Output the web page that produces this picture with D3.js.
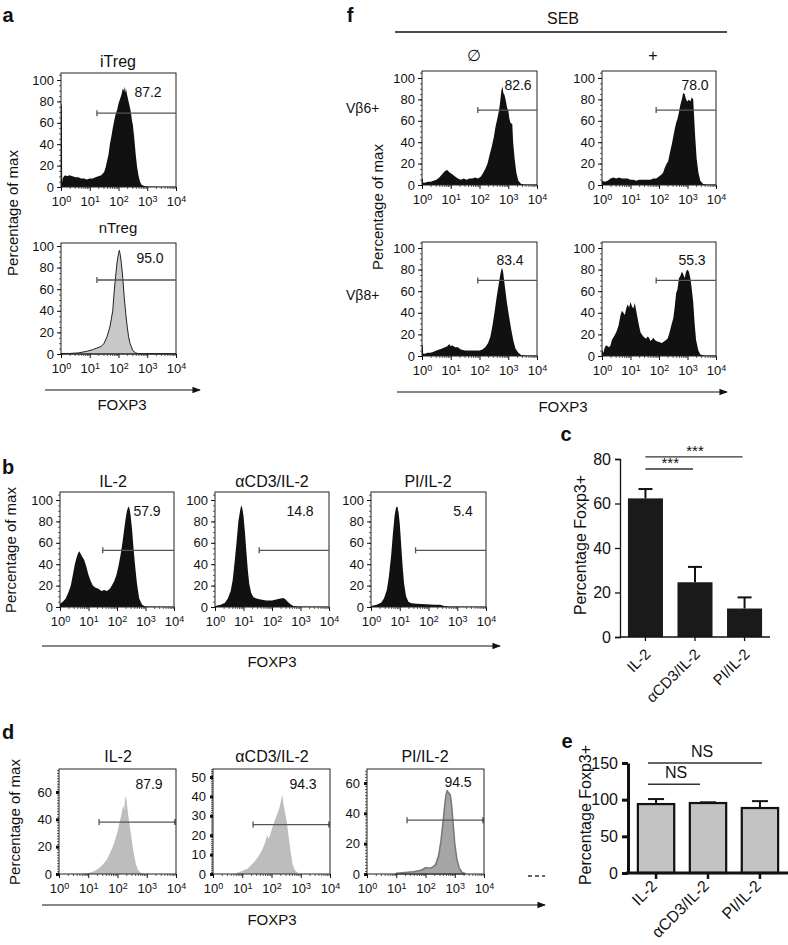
<!DOCTYPE html>
<html><head><meta charset="utf-8">
<script src="https://cdn.jsdelivr.net/npm/d3@7"></script>
<style>body{margin:0;background:#fff}svg{display:block}text{font-family:"Liberation Sans",Arial,sans-serif;fill:#111}</style>
</head><body>
<script>
// ---------------- DATA (x = log10 FOXP3 decade, y = % of max) ----------------
const iTregHist=[[0,77],[0.03,77],[0.04,4],[0.06,8],[0.1,10],[0.15,11],[0.2,10],[0.3,11],[0.4,10],[0.5,9],[0.6,9],[0.7,8],[0.8,8],[0.9,7],[1.0,8],[1.1,8],[1.2,9],[1.3,10],[1.4,11],[1.5,14],[1.55,18],[1.6,24],[1.65,30],[1.7,40],[1.75,47],[1.8,55],[1.85,62],[1.9,68],[1.95,72],[2.0,78],[2.05,82],[2.1,86],[2.15,92],[2.18,90],[2.2,94],[2.23,88],[2.26,92],[2.3,86],[2.35,80],[2.4,74],[2.43,70],[2.47,62],[2.5,58],[2.55,45],[2.6,30],[2.65,18],[2.7,10],[2.75,5],[2.8,2],[2.9,1],[3.0,0.5],[3.5,0.3],[4,0.3]];
const nTregHist=[[0,0.5],[0.3,0.5],[0.6,1],[0.9,2.5],[1.1,4],[1.25,5.5],[1.4,7],[1.5,10],[1.6,16],[1.7,25],[1.8,40],[1.85,58],[1.9,72],[1.95,85],[2.0,93],[2.03,96],[2.06,92],[2.1,84],[2.15,70],[2.2,52],[2.25,38],[2.3,26],[2.35,16],[2.4,10],[2.5,3],[2.6,1],[2.7,0.3],[4,0.3]];
const seb6None=[[0,6],[0.03,6],[0.04,2],[0.1,2],[0.2,3],[0.3,3],[0.4,4],[0.5,5],[0.6,7],[0.7,10],[0.8,13],[0.88,14],[0.95,12],[1.05,10],[1.15,8],[1.25,6],[1.35,5],[1.45,6],[1.55,5],[1.65,6],[1.75,6],[1.85,7],[1.95,6],[2.05,8],[2.12,11],[2.2,15],[2.28,20],[2.35,28],[2.42,35],[2.5,45],[2.56,55],[2.62,62],[2.68,70],[2.72,78],[2.76,88],[2.8,92],[2.83,86],[2.87,84],[2.92,78],[2.96,72],[3.0,70],[3.04,62],[3.08,58],[3.14,57],[3.17,40],[3.22,25],[3.28,12],[3.35,4],[3.45,1],[3.6,0.5],[4,0.5]];
const seb6Plus=[[0,4],[0.1,3],[0.2,4],[0.3,6],[0.4,7],[0.5,6],[0.6,7],[0.7,6],[0.8,6],[0.9,6],[1.0,5],[1.1,5],[1.2,4],[1.3,5],[1.4,5],[1.5,5],[1.6,5],[1.7,5],[1.8,6],[1.9,6],[2.0,8],[2.1,10],[2.15,12],[2.2,16],[2.27,20],[2.32,22],[2.38,30],[2.45,38],[2.5,45],[2.55,52],[2.6,58],[2.65,62],[2.7,68],[2.75,75],[2.8,80],[2.85,86],[2.9,85],[2.95,80],[3.0,78],[3.05,80],[3.1,78],[3.15,82],[3.2,80],[3.23,65],[3.27,45],[3.32,25],[3.38,12],[3.45,4],[3.55,1],[3.7,0.5],[4,0.5]];
const seb8None=[[0,10],[0.03,10],[0.04,2],[0.1,2],[0.2,3],[0.3,3],[0.4,4],[0.5,5],[0.6,6],[0.7,7],[0.8,8],[0.88,9],[0.95,11],[1.0,9],[1.05,10],[1.15,8],[1.25,8],[1.35,6],[1.5,5],[1.7,5],[1.9,5],[2.0,5],[2.1,6],[2.2,8],[2.3,12],[2.38,18],[2.45,28],[2.52,40],[2.6,55],[2.66,65],[2.72,75],[2.78,82],[2.82,78],[2.88,65],[2.95,50],[3.02,38],[3.1,25],[3.18,14],[3.25,7],[3.35,3],[3.45,1],[3.6,0.5],[4,0.5]];
const seb8Plus=[[0,6],[0.05,3],[0.1,8],[0.15,10],[0.2,9],[0.25,8],[0.3,10],[0.35,15],[0.42,18],[0.5,22],[0.58,28],[0.65,38],[0.7,42],[0.75,40],[0.8,38],[0.85,44],[0.9,48],[0.95,45],[1.0,50],[1.05,46],[1.1,44],[1.15,49],[1.2,42],[1.25,35],[1.3,28],[1.35,22],[1.4,20],[1.45,18],[1.5,17],[1.55,16],[1.6,18],[1.65,17],[1.7,14],[1.75,15],[1.8,17],[1.85,15],[1.9,14],[2.0,13],[2.1,12],[2.2,14],[2.3,16],[2.35,20],[2.4,25],[2.45,30],[2.5,35],[2.55,45],[2.6,58],[2.65,62],[2.7,72],[2.75,74],[2.8,78],[2.85,76],[2.9,72],[2.95,78],[3.0,80],[3.05,78],[3.1,72],[3.15,62],[3.2,50],[3.25,30],[3.3,15],[3.38,5],[3.45,1.5],[3.6,0.5],[4,0.5]];
const bIL2=[[0,3],[0.1,5],[0.2,8],[0.3,14],[0.38,20],[0.45,30],[0.52,40],[0.58,46],[0.63,50],[0.68,52],[0.72,50],[0.78,47],[0.85,44],[0.92,38],[1.0,30],[1.08,24],[1.15,20],[1.25,18],[1.35,17],[1.45,15],[1.55,16],[1.65,15],[1.75,17],[1.82,20],[1.9,24],[1.98,30],[2.05,38],[2.12,48],[2.18,58],[2.24,70],[2.3,82],[2.35,90],[2.4,94],[2.44,92],[2.48,85],[2.53,72],[2.58,55],[2.63,40],[2.7,22],[2.78,8],[2.88,2],[3.0,0.5],[4,0.3]];
const bCD3=[[0,1],[0.2,2],[0.35,4],[0.45,8],[0.55,15],[0.62,25],[0.7,45],[0.76,62],[0.82,80],[0.88,90],[0.92,95],[0.96,92],[1.0,85],[1.05,70],[1.1,52],[1.15,35],[1.2,22],[1.27,13],[1.35,9],[1.45,8],[1.6,7],[1.8,6],[2.0,6],[2.15,7],[2.3,8],[2.4,8.5],[2.48,7],[2.55,5],[2.65,2.5],[2.75,1],[2.9,0.5],[4,0.3]];
const bPI=[[0,1],[0.2,2],[0.35,4],[0.45,8],[0.55,16],[0.62,28],[0.7,48],[0.76,68],[0.82,85],[0.87,93],[0.92,94],[0.96,88],[1.0,78],[1.05,58],[1.1,38],[1.15,22],[1.22,10],[1.3,5],[1.4,3.5],[1.6,3],[1.9,2.5],[2.2,2],[2.4,2],[2.55,1],[2.7,0.4],[4,0.3]];
const dIL2=[[0.8,0.3],[1.0,0.8],[1.2,2],[1.35,4],[1.5,7],[1.62,10],[1.72,14],[1.82,19],[1.92,25],[2.0,31],[2.06,37],[2.12,42],[2.17,48],[2.2,50],[2.23,47],[2.26,55],[2.29,57],[2.32,52],[2.36,44],[2.42,35],[2.48,26],[2.55,16],[2.62,8],[2.7,3],[2.8,1],[2.9,0.3]];
const dCD3=[[0.8,0.5],[1.0,1.5],[1.2,3],[1.4,6],[1.55,9],[1.7,13],[1.8,17],[1.85,20],[1.9,18],[1.97,21],[2.05,25],[2.12,28],[2.2,31],[2.27,34],[2.33,38],[2.37,41],[2.41,36],[2.46,32],[2.52,27],[2.58,20],[2.65,12],[2.72,5],[2.8,2],[2.9,0.5]];
const dPI=[[1.0,0.5],[1.3,1],[1.6,2],[1.85,3],[2.0,5],[2.1,4],[2.25,5],[2.35,8],[2.45,14],[2.52,22],[2.58,32],[2.63,42],[2.68,50],[2.72,54],[2.78,53],[2.83,54],[2.87,48],[2.92,38],[2.97,26],[3.03,14],[3.1,6],[3.2,2],[3.3,0.5]];
const dPI2=[[1.0,0.5],[1.3,1],[1.6,1.5],[1.85,2.5],[2.0,4],[2.2,4],[2.35,6],[2.45,12],[2.53,22],[2.6,34],[2.65,44],[2.7,52],[2.74,55],[2.8,53],[2.85,52],[2.9,44],[2.95,32],[3.0,20],[3.07,10],[3.15,4],[3.25,1],[3.35,0.3]];

const decadeTicks=[0,1,2,3,4];
const pctTicks=[0,20,40,60,80,100];
const gateStartsA=[1.25,1.25], gateLevelsA=[69,68.5], gateLabelsA=['87.2','95.0'];
const gateStartsF=[1.94,1.9,1.94,1.9], gateLevelsF=[70,70,70,70], gateLabelsF=['82.6','78.0','83.4','55.3'];
const gateStartsB=[1.5,1.55,1.55], gateLevelsB=[53,53,53], gateLabelsB=['57.9','14.8','5.4'];
const gateStartsD=[1.37,1.37,1.37], gateLevelsD=[38,25.5,35.5], gateLabelsD=['87.9','94.3','94.5'];
const dTicks=[[0,20,40,60],[0,10,20,30,40,50],[0,20,40,60]];

const categories=['IL-2','\u03b1CD3/IL-2','PI/IL-2'];
const cMeans=[62.3,24.6,12.8], cErr=[4.2,6.9,5.0];
const cTicks=[0,20,40,60,80];
const eMeans=[94,95.4,88.6], eErr=[6.8,1.0,9.4];
const eTicks=[0,50,100,150];

// ---------------- RENDER ----------------
const FONT='"Liberation Sans", Arial, sans-serif';
const svg=d3.select('body').append('svg').attr('width',788).attr('height',945);
const defs=svg.append('defs');
defs.append('marker').attr('id','arr').attr('viewBox','0 0 10 10').attr('refX',9).attr('refY',5)
  .attr('markerWidth',8).attr('markerHeight',7).attr('orient','auto')
  .append('path').attr('d','M0,1L10,5L0,9z').attr('fill','#111');

const minorDec=[]; for(let d=0;d<4;d++) for(let k=2;k<10;k++) minorDec.push(d+Math.log10(k));

function txt(s,x,y,size,opts={}){
  return svg.append('text').attr('x',x).attr('y',y).attr('font-size',size)
   .attr('text-anchor',opts.anchor||'middle').attr('font-weight',opts.bold?'bold':null).text(s);
}
function vlabel(s,cx,cy,size){
  svg.append('text').attr('transform',`translate(${cx},${cy}) rotate(-90)`).attr('text-anchor','middle')
   .attr('dominant-baseline','central').attr('font-size',size).text(s);
}
function arrow(x1,x2,y){
  svg.append('line').attr('x1',x1).attr('x2',x2).attr('y1',y).attr('y2',y).attr('stroke','#111')
   .attr('stroke-width',1.2).attr('marker-end','url(#arr)');
}

function hist(p){
  const g=svg.append('g');
  const x=d3.scaleLinear().domain([0,4]).range([p.x0,p.x1]);
  const y=d3.scaleLinear().domain([0,p.refVal]).range([p.y0,p.yRef]);
  const area=d3.area().x(d=>x(d[0])).y0(y(0)).y1(d=>y(d[1]));
  p.series.forEach(s=>{
    g.append('path').datum(s.data).attr('d',area).attr('fill',s.fill).attr('fill-opacity',s.op||1)
     .attr('stroke',s.stroke||'none').attr('stroke-width',s.sw||1).attr('stroke-linejoin','round');
  });
  g.append('rect').attr('x',p.x0).attr('y',p.top).attr('width',p.x1-p.x0).attr('height',p.y0-p.top)
   .attr('fill','none').attr('stroke','#222').attr('stroke-width',1);
  const yMaxVal=y.invert(p.top);
  const ym=g.append('g').attr('transform',`translate(${p.x0},0)`)
   .call(d3.axisLeft(y).tickValues(d3.range(0,yMaxVal,p.minorStep)).tickSize(2).tickFormat(''));
  ym.select('.domain').remove(); ym.selectAll('line').attr('stroke','#333').attr('stroke-width',0.8);
  const ya=g.append('g').attr('transform',`translate(${p.x0},0)`)
   .call(d3.axisLeft(y).tickValues(p.ticks).tickSize(p.dStyle?3:4).tickPadding(p.dStyle?4:3));
  ya.select('.domain').remove();
  ya.attr('font-size',13).attr('font-family',FONT);
  ya.selectAll('line').attr('stroke','#111').attr('stroke-width',p.dStyle?3:1);
  const xm=g.append('g').attr('transform',`translate(0,${p.y0})`)
   .call(d3.axisBottom(x).tickValues(minorDec).tickSize(2).tickFormat(''));
  xm.select('.domain').remove(); xm.selectAll('line').attr('stroke','#333').attr('stroke-width',0.8);
  const xa=g.append('g').attr('transform',`translate(0,${p.y0})`)
   .call(d3.axisBottom(x).tickValues(decadeTicks).tickSize(4).tickPadding(6));
  xa.select('.domain').remove();
  xa.attr('font-size',13).attr('font-family',FONT);
  xa.selectAll('line').attr('stroke','#111');
  xa.selectAll('.tick text').each(function(d){
    const t=d3.select(this); t.text(null);
    t.append('tspan').text('10');
    t.append('tspan').attr('dy','-0.45em').attr('font-size','9').text(d);
  });
  const gy=y(p.gate[1]), gx=x(p.gate[0]);
  g.append('line').attr('x1',gx).attr('x2',p.x1).attr('y1',gy).attr('y2',gy).attr('stroke','#555').attr('stroke-width',1.3);
  g.append('line').attr('x1',gx).attr('x2',gx).attr('y1',gy-3).attr('y2',gy+3).attr('stroke','#555').attr('stroke-width',1.3);
  if(p.dStyle) g.append('line').attr('x1',p.x1-1).attr('x2',p.x1-1).attr('y1',gy-3).attr('y2',gy+3).attr('stroke','#333').attr('stroke-width',1.3);
  txt(p.label,p.lx,p.ly+5,14);
  if(p.title) txt(p.title,p.tx,p.ty+5,p.titleSize||16);
}

// ----- panel a -----
txt('a',8,22,20,{bold:true});
hist({x0:61,x1:176,top:73,y0:187,yRef:80,refVal:100,ticks:pctTicks,minorStep:5,
  series:[{data:iTregHist,fill:'#111'}],gate:[gateStartsA[0],gateLevelsA[0]],label:gateLabelsA[0],lx:148,ly:92,title:'iTreg',tx:118,ty:62});
hist({x0:61,x1:176,top:243,y0:354,yRef:246,refVal:100,ticks:pctTicks,minorStep:5,
  series:[{data:nTregHist,fill:'#c8c8c8',stroke:'#222',sw:1}],gate:[gateStartsA[1],gateLevelsA[1]],label:gateLabelsA[1],lx:150,ly:258,title:'nTreg',tx:118,ty:228,titleSize:15});
vlabel('Percentage of max',12,213,15);
arrow(45,200,390);
txt('FOXP3',122,410,15);

// ----- panel f -----
txt('f',350,22,20,{bold:true});
txt('SEB',563,24,16);
svg.append('line').attr('x1',395).attr('x2',727).attr('y1',32).attr('y2',32).attr('stroke','#111').attr('stroke-width',1.3);
txt('\u2205',474,61,16);
txt('+',653,61,16);
const fData=[seb6None,seb6Plus,seb8None,seb8Plus];
const fPos=[{x0:422,x1:537,top:71,y0:185,yRef:78,lx:518,ly:85},{x0:602,x1:716,top:71,y0:185,yRef:78,lx:695,ly:85},
            {x0:422,x1:537,top:242,y0:356,yRef:248,lx:510,ly:260},{x0:602,x1:716,top:242,y0:356,yRef:248,lx:692,ly:260}];
fPos.forEach((q,i)=>hist(Object.assign({refVal:100,ticks:pctTicks,minorStep:5,series:[{data:fData[i],fill:'#111'}],
  gate:[gateStartsF[i],gateLevelsF[i]],label:gateLabelsF[i]},q)));
txt('V\u03b26+',346,113,14,{anchor:'start'});
txt('V\u03b28+',346,300,14,{anchor:'start'});
vlabel('Percentage of max',377,207,15);
arrow(397,727,392);
txt('FOXP3',563,412,15);

// ----- panel b -----
txt('b',8,474,20,{bold:true});
const bData=[bIL2,bCD3,bPI];
const bPos=[{x0:60,x1:174,lx:147,tx:113},{x0:215,x1:329,lx:300,tx:272},{x0:371,x1:486,lx:463,tx:428}];
bPos.forEach((q,i)=>hist(Object.assign({top:492,y0:607,yRef:500,refVal:100,ticks:pctTicks,minorStep:5,series:[{data:bData[i],fill:'#111'}],
  gate:[gateStartsB[i],gateLevelsB[i]],label:gateLabelsB[i],ly:511,title:categories[i],ty:482},q)));
vlabel('Percentage of max',10,550,15);
arrow(42,500,646);
txt('FOXP3',272,667,15);

// ----- panel d -----
txt('d',8,739,20,{bold:true});
const dSeries=[[{data:dIL2,fill:'#bdbdbd'}],[{data:dCD3,fill:'#bdbdbd'}],
  [{data:dPI,fill:'#c4c4c4'},{data:dPI2,fill:'#8c8c8c',op:0.55,stroke:'#7a7a7a',sw:1.6}]];
const dPos=[{x0:59,x1:176,yRef:792,refVal:60,minorStep:2,lx:149,ly:784,tx:118,ty:757},
            {x0:213,x1:330,yRef:777,refVal:50,minorStep:1,lx:303,ly:784,tx:272,ty:757},
            {x0:367,x1:484,yRef:783,refVal:60,minorStep:2,lx:458,ly:782,tx:425,ty:757}];
dPos.forEach((q,i)=>hist(Object.assign({top:769,y0:874,ticks:dTicks[i],series:dSeries[i],dStyle:true,
  gate:[gateStartsD[i],gateLevelsD[i]],label:gateLabelsD[i],title:categories[i]},q)));
svg.append('line').attr('x1',528).attr('x2',545).attr('y1',876).attr('y2',876).attr('stroke','#333').attr('stroke-width',1.3).attr('stroke-dasharray','4,3');
vlabel('Percentage of max',14,822,15);
arrow(42,545,905);
txt('FOXP3',272,925,15);

// ----- panel c -----
txt('c',566,441,20,{bold:true});
(function(){
  const g=svg.append('g');
  const x=d3.scaleBand().domain(categories).range([620,770]).paddingInner(0.293).paddingOuter(0.16);
  const y=d3.scaleLinear().domain([0,80]).range([637,459]);
  g.selectAll('rect.bar').data(categories).join('rect').attr('x',d=>x(d)).attr('width',x.bandwidth())
   .attr('y',(d,i)=>y(cMeans[i])).attr('height',(d,i)=>y(0)-y(cMeans[i])).attr('fill','#1a1a1a');
  categories.forEach((c,i)=>{
    const cx=x(c)+x.bandwidth()/2, top=y(cMeans[i]+cErr[i]);
    g.append('line').attr('x1',cx).attr('x2',cx).attr('y1',y(cMeans[i])).attr('y2',top).attr('stroke','#111').attr('stroke-width',2);
    g.append('line').attr('x1',cx-7).attr('x2',cx+7).attr('y1',top).attr('y2',top).attr('stroke','#111').attr('stroke-width',2);
    g.append('line').attr('x1',cx).attr('x2',cx).attr('y1',y(0)).attr('y2',y(0)+4).attr('stroke','#111').attr('stroke-width',1.3);
    g.append('text').attr('transform',`translate(${cx+6},${y(0)+18}) rotate(-45)`).attr('text-anchor','end').attr('font-size',15).text(c);
  });
  g.append('line').attr('x1',620).attr('x2',770).attr('y1',y(0)).attr('y2',y(0)).attr('stroke','#111').attr('stroke-width',1.3);
  const ya=g.append('g').attr('transform','translate(620,0)').call(d3.axisLeft(y).tickValues(cTicks).tickSize(5).tickPadding(4));
  ya.attr('font-size',16).attr('font-family',FONT);
  ya.selectAll('line,path').attr('stroke','#111').attr('stroke-width',1.3);
  const cx=c=>x(c)+x.bandwidth()/2;
  [[0,2,81,'***'],[0,1,75.5,'***']].forEach(s=>{
    const yy=y(s[2]);
    g.append('line').attr('x1',cx(categories[s[0]])).attr('x2',cx(categories[s[1]])-2).attr('y1',yy).attr('y2',yy).attr('stroke','#333').attr('stroke-width',1.3);
    g.append('text').attr('x',(cx(categories[s[0]])+cx(categories[s[1]]))/2).attr('y',yy-1).attr('text-anchor','middle').attr('font-size',15).text(s[3]);
  });
})();
vlabel('Percentage Foxp3+',580,545,16);

// ----- panel e -----
txt('e',567,748,20,{bold:true});
(function(){
  const g=svg.append('g');
  const x=d3.scaleBand().domain(categories).range([628,788]).paddingInner(0.3).paddingOuter(0.19);
  const y=d3.scaleLinear().domain([0,150]).range([873,763]);
  g.selectAll('rect.bar').data(categories).join('rect').attr('x',d=>x(d)).attr('width',x.bandwidth())
   .attr('y',(d,i)=>y(eMeans[i])).attr('height',(d,i)=>y(0)-y(eMeans[i])).attr('fill','#c3c3c3').attr('stroke','#111').attr('stroke-width',2.2);
  categories.forEach((c,i)=>{
    const cx=x(c)+x.bandwidth()/2, top=y(eMeans[i]+eErr[i]);
    g.append('line').attr('x1',cx).attr('x2',cx).attr('y1',y(eMeans[i])).attr('y2',top).attr('stroke','#111').attr('stroke-width',2);
    g.append('line').attr('x1',cx-8).attr('x2',cx+8).attr('y1',top).attr('y2',top).attr('stroke','#111').attr('stroke-width',2);
    g.append('line').attr('x1',cx).attr('x2',cx).attr('y1',y(0)).attr('y2',y(0)+6).attr('stroke','#111').attr('stroke-width',2.5);
    g.append('text').attr('transform',`translate(${cx+2},${y(0)+14}) rotate(-45)`).attr('text-anchor','end').attr('font-size',16).text(c);
  });
  g.append('line').attr('x1',626).attr('x2',788).attr('y1',y(0)).attr('y2',y(0)).attr('stroke','#111').attr('stroke-width',3);
  const ya=g.append('g').attr('transform','translate(628,0)').call(d3.axisLeft(y).tickValues(eTicks).tickSize(6).tickPadding(4).tickSizeOuter(0));
  ya.attr('font-size',16).attr('font-family',FONT);
  ya.selectAll('line,path').attr('stroke','#111').attr('stroke-width',3);
  const cx=c=>x(c)+x.bandwidth()/2;
  [[0,2,150,'NS'],[0,1,121,'NS']].forEach(s=>{
    const yy=y(s[2]);
    g.append('line').attr('x1',cx(categories[s[0]])-8).attr('x2',cx(categories[s[1]])-8+(s[1]===2?10:0)).attr('y1',yy).attr('y2',yy).attr('stroke','#333').attr('stroke-width',1.3);
    g.append('text').attr('x',(cx(categories[s[0]])+cx(categories[s[1]]))/2-6).attr('y',yy-6).attr('text-anchor','middle').attr('font-size',16).text(s[3]);
  });
})();
vlabel('Percentage Foxp3+',585,815,16);
</script></body></html>
